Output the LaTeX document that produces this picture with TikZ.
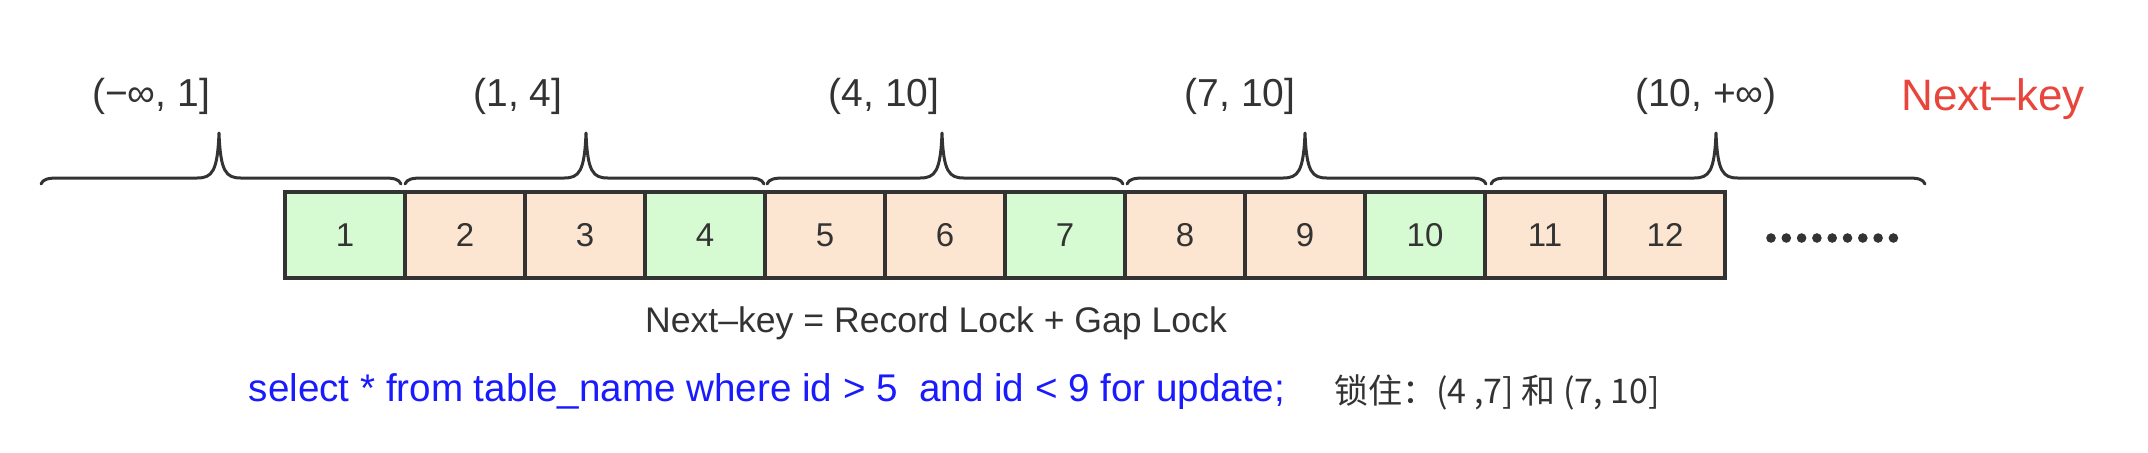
\documentclass[tikz,border=0pt]{standalone}
\usepackage{fontspec}
\setmainfont{Liberation Sans}
\newfontfamily\cjk{Noto Sans CJK SC}
\definecolor{txt}{HTML}{333333}
\definecolor{gfill}{HTML}{D6FAD2}
\definecolor{pfill}{HTML}{FCE6D1}
\definecolor{linec}{HTML}{333333}
\definecolor{redc}{HTML}{E8453C}
\definecolor{bluec}{HTML}{1A1AFF}
\tikzset{
  cell/.style={draw=linec, line width=1.9pt, minimum width=60pt, minimum height=43pt,
    inner sep=0pt, text=txt, font=\fontsize{16.5}{18}\selectfont},
  lab/.style={text=txt, inner sep=0pt, font=\fontsize{19.5}{22}\selectfont},
  bracepath/.style={draw=linec, line width=1.5pt, line cap=round, line join=round},
}
\newcommand{\mybrace}[3]{%
  \draw[bracepath] (#1,184) .. controls (#1+2,179) and (#1+7,178) .. (#1+18,178)
    -- (#2-22,178) .. controls (#2-7,178) and (#2-1.5,172) .. (#2,133)
    .. controls (#2+1.5,172) and (#2+7,178) .. (#2+22,178)
    -- (#3-18,178) .. controls (#3-7,178) and (#3-2,179) .. (#3,184);}
\begin{document}
\begin{tikzpicture}[x=0.5pt,y=-0.5pt]
\useasboundingbox (0,0) rectangle (2148,452);
% cells
\foreach \i/\c in {1/gfill,2/pfill,3/pfill,4/gfill,5/pfill,6/pfill,7/gfill,8/pfill,9/pfill,10/gfill,11/pfill,12/pfill}
  \node[cell, fill=\c] (b\i) at ({345+120*(\i-1)},235) {\i};
% dots
\foreach \k in {0,...,8}
  \fill[txt] ({1771+15.3*\k},238) circle (2.4pt);
% braces
\mybrace{41}{219}{401}
\mybrace{405}{586}{764}
\mybrace{767}{942}{1123}
\mybrace{1127}{1305}{1486}
\mybrace{1491}{1716}{1925}
% labels
\node[lab] (l1) at (151,96) {(−∞, 1]};
\node[lab] (l2) at (518,96) {(1, 4]};
\node[lab] (l3) at (884,96) {(4, 10]};
\node[lab] (l4) at (1240,96) {(7, 10]};
\node[lab] (l5) at (1706,96) {(10, +∞)};
\node[text=redc, inner sep=0pt, font=\fontsize{22}{26}\selectfont] (nk) at (1993,99) {Next–key};
\node[text=txt, inner sep=0pt, font=\fontsize{17.8}{20}\selectfont] (formula) at (936,323) {Next–key = Record Lock + Gap Lock};
\node[text=bluec, inner sep=0pt, font=\fontsize{19.3}{22}\selectfont] (sql) at (767,392) {select * from table\_name where id > 5 \ and id < 9 for update;};
\node[text=txt, inner sep=0pt, font=\cjk\fontsize{17}{20}\selectfont] (lock) at (1497,392) {锁住：(4 ,7] 和 (7, 10]};
\end{tikzpicture}
\end{document}
